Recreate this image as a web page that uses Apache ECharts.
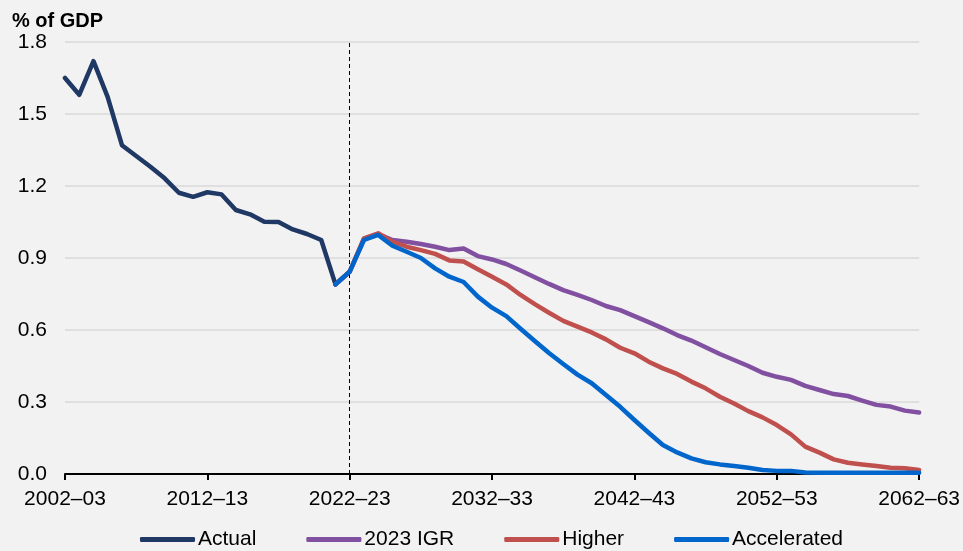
<!DOCTYPE html>
<html>
<head>
<meta charset="utf-8">
<script src="https://cdn.jsdelivr.net/npm/echarts@6/dist/echarts.min.js"></script>
<style>
html,body{margin:0;padding:0;background:#f2f2f2;}
#chart{width:963px;height:551px;}
</style>
</head>
<body>
<div id="chart"></div>
<script>
var categories = [
 '2002–03','2003–04','2004–05','2005–06','2006–07','2007–08','2008–09','2009–10','2010–11','2011–12',
 '2012–13','2013–14','2014–15','2015–16','2016–17','2017–18','2018–19','2019–20','2020–21','2021–22',
 '2022–23','2023–24','2024–25','2025–26','2026–27','2027–28','2028–29','2029–30','2030–31','2031–32',
 '2032–33','2033–34','2034–35','2035–36','2036–37','2037–38','2038–39','2039–40','2040–41','2041–42',
 '2042–43','2043–44','2044–45','2045–46','2046–47','2047–48','2048–49','2049–50','2050–51','2051–52',
 '2052–53','2053–54','2054–55','2055–56','2056–57','2057–58','2058–59','2059–60','2060–61','2061–62',
 '2062–63'
];
// Actual: 2002–03 to 2022–23
var actual = [1.65,1.58,1.72,1.57,1.37,1.325,1.28,1.232,1.172,1.155,
              1.174,1.165,1.10,1.082,1.051,1.05,1.019,1.00,0.975,0.79,0.843];
// Projections: 2021–22 onwards
var igr = [0.79,0.843,0.98,1.0,0.975,0.968,0.958,0.947,0.933,0.94,
           0.908,0.894,0.875,0.848,0.82,0.792,0.766,0.746,0.725,0.70,
           0.683,0.658,0.633,0.607,0.579,0.556,0.528,0.50,0.475,0.45,
           0.422,0.405,0.392,0.367,0.35,0.333,0.325,0.306,0.288,0.281,
           0.264,0.256];
var higher = [0.79,0.843,0.982,1.003,0.968,0.947,0.933,0.917,0.89,0.885,
              0.853,0.822,0.79,0.746,0.708,0.672,0.638,0.614,0.59,0.561,
              0.526,0.503,0.468,0.44,0.417,0.385,0.357,0.322,0.294,0.262,
              0.236,0.204,0.165,0.114,0.089,0.061,0.047,0.04,0.033,0.026,
              0.024,0.017];
var accelerated = [0.79,0.843,0.975,0.996,0.951,0.926,0.90,0.857,0.822,0.80,
                   0.739,0.693,0.658,0.605,0.554,0.504,0.458,0.414,0.378,0.329,
                   0.28,0.225,0.172,0.121,0.09,0.065,0.049,0.04,0.033,0.026,
                   0.017,0.013,0.013,0.006,0.005,0.005,0.005,0.005,0.005,0.005,
                   0.005,0.005];
var yTicks = {min:0, max:1.8, interval:0.3};
var projStart = 19;

function padFront(arr, n){ var out=[]; for(var i=0;i<n;i++) out.push(null); return out.concat(arr); }

var FONT = '"Liberation Sans", Arial, sans-serif';
var chart = echarts.init(document.getElementById('chart'), null, {renderer:'canvas'});
var lineBase = {type:'line', symbol:'none', smooth:false, animation:false, lineStyle:{width:4.5, cap:'round', join:'round'}};

chart.setOption({
  backgroundColor:'#f2f2f2',
  animation:false,
  textStyle:{fontFamily:FONT},
  title:{text:'% of GDP', left:7, top:6, textStyle:{fontFamily:FONT, fontSize:20, fontWeight:'bold', color:'#000'}},
  grid:{left:65, right:43, top:42, bottom:77, containLabel:false},
  legend:{
    left:135, top:524, itemWidth:55, itemHeight:5, itemGap:50, icon:'roundRect',
    textStyle:{fontFamily:FONT, fontSize:21, color:'#000', padding:[0,0,0,-2]},
    data:['Actual','2023 IGR','Higher','Accelerated']
  },
  xAxis:{
    type:'category', data:categories, boundaryGap:false,
    axisLine:{lineStyle:{color:'#000', width:2}},
    axisTick:{interval:9, length:6, lineStyle:{color:'#000', width:2}},
    axisLabel:{interval:9, fontFamily:FONT, fontSize:21, color:'#000', margin:15},
    splitLine:{show:false}
  },
  yAxis:{
    type:'value', min:yTicks.min, max:yTicks.max, interval:yTicks.interval,
    axisLine:{show:false}, axisTick:{show:false},
    axisLabel:{fontFamily:FONT, fontSize:21, color:'#000', margin:18, formatter:function(v){return v.toFixed(1);}},
    splitLine:{lineStyle:{color:'#d9d9d9', width:1.5}}
  },
  series:[
    Object.assign({}, lineBase, {name:'Actual', data:actual, color:'#203864', z:2,
      markLine:{silent:true, symbol:'none', label:{show:false}, animation:false,
        lineStyle:{type:[4,3], color:'#000', width:1},
        data:[{xAxis:'2022–23'}]}}),
    Object.assign({}, lineBase, {name:'2023 IGR', data:padFront(igr, projStart), color:'#8250a0', z:3}),
    Object.assign({}, lineBase, {name:'Higher', data:padFront(higher, projStart), color:'#c0504d', z:4}),
    Object.assign({}, lineBase, {name:'Accelerated', data:padFront(accelerated, projStart), color:'#0066cc', z:5})
  ]
});
</script>
</body>
</html>
